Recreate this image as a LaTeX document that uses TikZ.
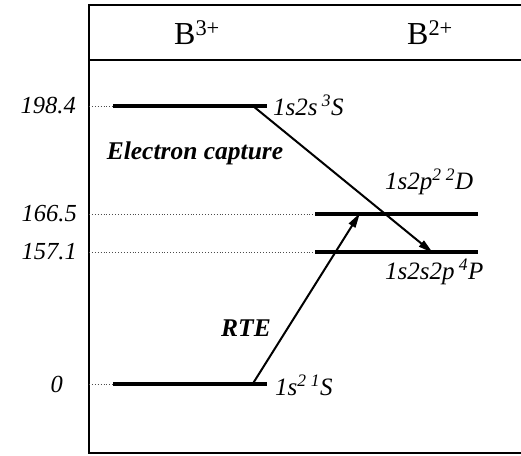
\documentclass[tikz,border=0pt]{standalone}
\usepackage{fontspec}
\setmainfont{Liberation Serif}
\usetikzlibrary{arrows.meta}

\begin{document}
\begin{tikzpicture}[x=1pt, y=-1pt,
    level/.style={line width=3.6pt},
    guide/.style={dotted, line width=0.9pt, gray!60!black},
    trans/.style={line width=2pt, -{Triangle[length=15pt, width=7.5pt]}},
    lab/.style={font=\fontsize{25}{25}\selectfont\itshape, inner sep=0pt},
    num/.style={font=\fontsize{24.5}{25}\selectfont\itshape, inner sep=0pt},
    proc/.style={font=\fontsize{25.5}{26}\selectfont\bfseries\itshape, inner sep=0pt},
    ion/.style={font=\fontsize{32}{32}\selectfont, inner sep=0pt}]
    \useasboundingbox (0,0) rectangle (521,455);
    \def\xF{89}   % left edge of the frame
    \def\xR{521}  % the frame runs off to the right

    % --- Frame and header row ---
    \draw[line width=1.8pt] (\xR,5) -- (\xF,5) -- (\xF,453) -- (\xR,453);
    \draw[line width=1.8pt] (\xF,60) -- (\xR,60);
    \node[ion] (b3) at (197,33) {B\textsuperscript{3+}};
    \node[ion] (b2) at (430,33) {B\textsuperscript{2+}};

    % --- B3+ levels (left column) ---
    \draw[guide] (\xF,106) -- (113,106);
    \draw[level] (113,106) -- (267,106);
    \draw[guide] (\xF,384) -- (113,384);
    \draw[level] (113,384) -- (267,384);

    % --- B2+ levels (right column) ---
    \draw[guide] (\xF,214) -- (315,214);
    \draw[level] (315,214) -- (478,214);
    \draw[guide] (\xF,252) -- (315,252);
    \draw[level] (315,252) -- (478,252);

    % --- Energies on the left ---
    \node[num, anchor=east] (e1) at (76,106) {198.4};
    \node[num, anchor=east] (e2) at (77,214) {166.5};
    \node[num, anchor=east] (e3) at (77,252) {157.1};
    \node[num, anchor=east] (e4) at (63,384) {0};

    % --- Term labels ---
    \node[lab, anchor=west] (s3S) at (273,105) {1s2s\,\textsuperscript{3}S};
    \node[lab, anchor=west] (s1S) at (275,385) {1s\textsuperscript{2}\,\textsuperscript{1}S};
    \node[lab, anchor=west] (p2D) at (385,182) {1s2p\textsuperscript{2}\,\textsuperscript{2}D};
    \node[lab, anchor=west] (p4P) at (385,272) {1s2s2p\,\textsuperscript{4}P};

    % --- Transitions ---
    \coordinate (ecA) at (253,106);
    \coordinate (ecB) at (433,253);
    \coordinate (rtA) at (252,385);
    \coordinate (rtB) at (360,213);
    \draw[trans] (ecA) -- (ecB);
    \draw[trans] (rtA) -- (rtB);
    \node[proc] (ec) at (195,153) {Electron capture};
    \node[proc] (rte) at (246,328) {RTE};
\end{tikzpicture}
\end{document}
